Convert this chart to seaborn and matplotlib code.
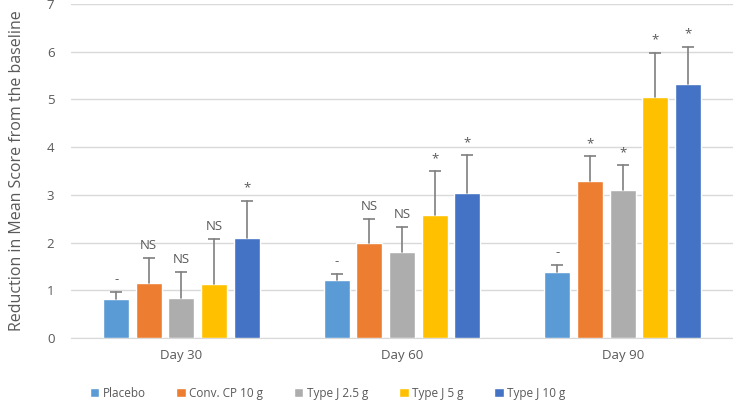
import matplotlib
matplotlib.use("Agg")
import matplotlib.pyplot as plt
import seaborn as sns
import pandas as pd

days = ["Day 30", "Day 60", "Day 90"]
groups = ["Placebo", "Conv. CP 10 g", "Type J 2.5 g", "Type J 5 g", "Type J 10 g"]
colors = ["#5B9BD5", "#ED7D31", "#ADADAD", "#FFC000", "#4472C4"]

# mean reduction per group, one value per day
placebo = [0.82, 1.22, 1.38]
conv_cp = [1.15, 2.00, 3.30]
type_j_25 = [0.85, 1.80, 3.10]
type_j_5 = [1.13, 2.57, 5.05]
type_j_10 = [2.10, 3.05, 5.33]

# upper error (sd) per group
err_placebo = [0.15, 0.13, 0.15]
err_conv_cp = [0.52, 0.50, 0.52]
err_type_j_25 = [0.53, 0.53, 0.53]
err_type_j_5 = [0.95, 0.93, 0.93]
err_type_j_10 = [0.78, 0.78, 0.78]

# significance labels
sig_placebo = ["-", "-", "-"]
sig_conv_cp = ["NS", "NS", "*"]
sig_type_j_25 = ["NS", "NS", "*"]
sig_type_j_5 = ["NS", "*", "*"]
sig_type_j_10 = ["*", "*", "*"]

means = [placebo, conv_cp, type_j_25, type_j_5, type_j_10]
errs = [err_placebo, err_conv_cp, err_type_j_25, err_type_j_5, err_type_j_10]
sigs = [sig_placebo, sig_conv_cp, sig_type_j_25, sig_type_j_5, sig_type_j_10]

rows = []
for g, vals in zip(groups, means):
    for d, v in zip(days, vals):
        rows.append({"day": d, "group": g, "value": v})
df = pd.DataFrame(rows)

sns.set_style("white")
plt.rcParams["font.family"] = ["Open Sans", "DejaVu Sans"]
text_col = "#595959"
err_col = "#7F7F7F"

fig = plt.figure(figsize=(7.33, 4.04), dpi=100)
ax = fig.add_axes([0.097, 0.163, 0.903, 0.827])

sns.barplot(data=df, x="day", y="value", hue="group", hue_order=groups,
            palette=colors, errorbar=None, width=0.74, gap=0.2,
            saturation=1, ax=ax, zorder=3)

# upper-only error bars with a cap on top, plus significance marks
for container, e_list, s_list in zip(ax.containers, errs, sigs):
    for bar, e, s in zip(container, e_list, s_list):
        x = bar.get_x() + bar.get_width() / 2
        h = bar.get_height()
        ax.plot([x, x], [h, h + e], color=err_col, lw=1.2, zorder=4)
        ax.plot([x], [h + e], marker="_", markersize=8, mew=1.2,
                color=err_col, zorder=4)
        ax.annotate(s, (x, h + e), xytext=(0, 9), textcoords="offset points",
                    ha="center", va="center", fontsize=9.5, color=text_col)

ax.set_ylim(0, 7)
ax.set_xlim(-0.5, 2.5)
ax.set_yticks(range(0, 8))
ax.yaxis.grid(True, color="#D9D9D9", linewidth=1, zorder=0)
ax.set_axisbelow(True)
for sp in ["top", "right", "left"]:
    ax.spines[sp].set_visible(False)
ax.spines["bottom"].set_color("#D9D9D9")
ax.tick_params(axis="both", length=0, colors=text_col, labelsize=9.5)
ax.tick_params(axis="y", pad=12)
ax.tick_params(axis="x", pad=8)
ax.set_xlabel("")
ax.set_ylabel("Reduction in Mean Score from the baseline", fontsize=11.5,
              color=text_col, labelpad=16)

ax.legend(loc="center left", bbox_to_anchor=(0.012, -0.165), ncol=5,
          frameon=False, fontsize=8.5, handlelength=0.8, handleheight=0.8,
          handletextpad=0.3, columnspacing=2.6, labelcolor=text_col)

fig.savefig("out.png", dpi=100)
